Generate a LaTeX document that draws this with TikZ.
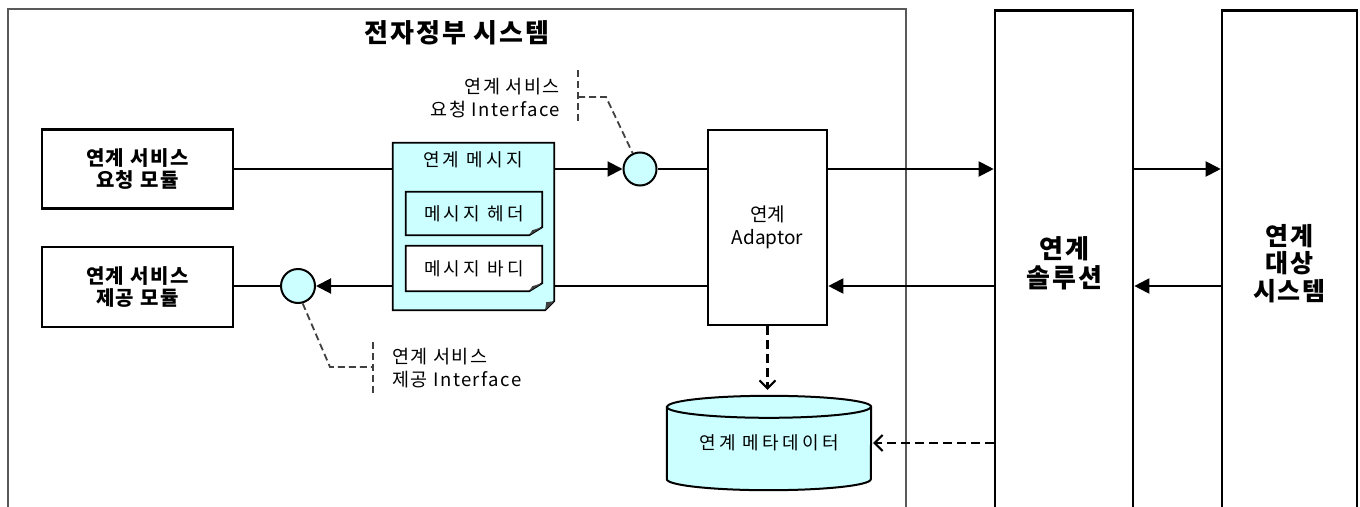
\documentclass[tikz,border=0pt]{standalone}
\usepackage{fontspec}
\newfontfamily\kr{Noto Sans CJK KR}
\newfontfamily\krA[LetterSpace=8]{Noto Sans CJK KR}
\newfontfamily\krB[LetterSpace=18]{Noto Sans CJK KR}
\usetikzlibrary{arrows.meta,calc,backgrounds}
\definecolor{cy}{HTML}{CCFFFF}
\begin{document}
\begin{tikzpicture}[x=1pt,y=-1pt,
  box/.style={draw, line width=2.6pt, rectangle, inner sep=0pt, align=center},
  flow/.style={line width=2pt},
  arr/.style={flow,-{Triangle[length=15pt,width=15pt]}},
  dasharr/.style={line width=2.4pt, dash pattern=on 9pt off 5pt,
     -{Straight Barb[length=8pt,width=16pt,line width=2pt]}},
  iface/.style={circle, draw, line width=2pt, fill=cy, inner sep=0pt},
  callout/.style={draw=black!75, line width=1.8pt, dash pattern=on 7pt off 4pt},
  modtxt/.style={font=\krA\bfseries\fontsize{20}{22}\selectfont},
  thintxt/.style={font=\krB\fontsize{18}{20}\selectfont},
  bigtxt/.style={font=\krA\bfseries\fontsize{26}{29}\selectfont},
  lbltxt/.style={font=\krA\fontsize{18.5}{23}\selectfont},
  plain/.style={inner sep=0pt, align=center}
]
\clip (0,0) rectangle (1360,506);

% outer system frame (open at bottom)
\draw[draw=black!65, line width=2pt] (8,520) -- (8,9) -- (906,9) -- (906,520);
\node[plain, bigtxt] (title) at (457,33) {전자정부 시스템};

% columns
\node[box, minimum width=138pt, minimum height=506pt, anchor=north, bigtxt] (sol) at (1064,9) {연계\\솔루션};
\node[box, minimum width=135pt, minimum height=506pt, anchor=north, font=\krA\bfseries\fontsize{25}{27.5}\selectfont] (tgt) at (1289.5,9) {연계\\대상\\시스템};

% modules
\node[box, minimum width=191pt, minimum height=79pt, modtxt] (req) at (137.5,169) {연계 서비스\\요청 모듈};
\node[box, minimum width=191pt, minimum height=80pt, modtxt] (prov) at (137.5,287) {연계 서비스\\제공 모듈};

% message document
\node[plain, minimum width=161pt, minimum height=167pt] (msg) at (473.5,226.5) {};
\node[plain, thintxt] (msglbl) at (473,160) {연계 메시지};
\node[plain, minimum width=136pt, minimum height=43pt, thintxt] (hdr) at (474,213.5) {메시지 헤더};
\node[plain, minimum width=136pt, minimum height=45pt, thintxt] (body) at (474,268.5) {메시지 바디};

% adaptor
\node[box, minimum width=119pt, minimum height=195pt, font=\kr\fontsize{19}{23}\selectfont] (adp) at (767.5,227.5) {연계\\Adaptor};

% interfaces
\node[iface, minimum size=33pt] (ireq) at (640,169) {};
\node[iface, minimum size=34pt] (iprov) at (298,286) {};

% database
\node[plain, minimum width=204pt, minimum height=94pt, thintxt] (db) at (769,443) {연계 메타데이터};

\begin{scope}[on background layer]
  \fill[white] (0,0) rectangle (1360,506);
  % message doc
  \draw[line width=1.8pt, fill=cy] (msg.north west) -- (msg.north east)
     -- ($(msg.south east)+(0,-9)$) -- ($(msg.south east)+(-9,0)$) -- (msg.south west) -- cycle;
  \fill[black!75] ($(msg.south east)+(0,-9)$) -- ($(msg.south east)+(-9,0)$) -- ($(msg.south east)+(-8,-8)$) -- cycle;
  % header
  \draw[line width=1.8pt, fill=cy] (hdr.north west) -- (hdr.north east)
     -- ($(hdr.south east)+(0,-8)$) -- ($(hdr.south east)+(-13,0)$) -- (hdr.south west) -- cycle;
  \fill[black!75] ($(hdr.south east)+(0,-8)$) -- ($(hdr.south east)+(-13,0)$) -- ($(hdr.south east)+(-10,-5)$) -- cycle;
  % body
  \draw[line width=1.8pt, fill=white] (body.north west) -- (body.north east)
     -- ($(body.south east)+(0,-8)$) -- ($(body.south east)+(-13,0)$) -- (body.south west) -- cycle;
  \fill[black!75] ($(body.south east)+(0,-8)$) -- ($(body.south east)+(-13,0)$) -- ($(body.south east)+(-10,-5)$) -- cycle;
  % cylinder
  \draw[line width=2pt, fill=cy] ($(db.north west)+(0,11)$) -- ($(db.south west)+(0,-11)$)
     arc[start angle=180, end angle=360, x radius=102pt, y radius=11pt]
     -- ($(db.north east)+(0,11)$)
     arc[start angle=0, end angle=180, x radius=102pt, y radius=11pt] -- cycle;
  \draw[line width=2pt] ($(db.north west)+(0,11)$)
     arc[start angle=180, end angle=360, x radius=102pt, y radius=11pt];
\end{scope}

% request flow (upper)
\draw[flow] (ireq.west -| req.east) -- (ireq.west -| msg.west);
\draw[arr] (ireq.west -| msg.east) -- (ireq.west);
\draw[flow] (ireq.east) -- (ireq.east -| adp.west);
\draw[arr] (ireq.east -| adp.east) -- (ireq.east -| sol.west);
\draw[arr] (ireq.east -| sol.east) -- (ireq.east -| tgt.west);

% provide flow (lower)
\draw[arr] (iprov.east -| tgt.west) -- (iprov.east -| sol.east);
\draw[arr] (iprov.east -| sol.west) -- (iprov.east -| adp.east);
\draw[flow] (iprov.east -| adp.west) -- (iprov.east -| msg.east);
\draw[arr] (iprov.east -| msg.west) -- (iprov.east);
\draw[flow] (iprov.west) -- (iprov.west -| prov.east);

% metadata access
\draw[dasharr] (adp.south) -- ($(adp.south |- db.north)+(0,-6)$);
\draw[dasharr] (db.east -| sol.west) -- ($(db.east)+(2,0)$);

% interface callouts
\node[anchor=east, align=right, lbltxt, inner sep=0pt] (lreq) at (560,98) {연계 서비스\\요청 Interface};
\coordinate (bq1) at (578,70);
\coordinate (bq2) at (578,123);
\coordinate (bqm) at (578,97);
\coordinate (bqk) at (606,97);
\draw[callout] (bq1) -- (bq2);
\draw[callout] (bqm) -- (bqk) -- (ireq.115);

\node[anchor=west, align=left, lbltxt, inner sep=0pt] (lprov) at (392,368) {연계 서비스\\제공 Interface};
\coordinate (bp1) at (373,342);
\coordinate (bp2) at (373,395);
\coordinate (bpm) at (373,367);
\coordinate (bpk) at (330,367);
\draw[callout] (bp1) -- (bp2);
\draw[callout] (iprov.-75) -- (bpk) -- (bpm);
\end{tikzpicture}
\end{document}
